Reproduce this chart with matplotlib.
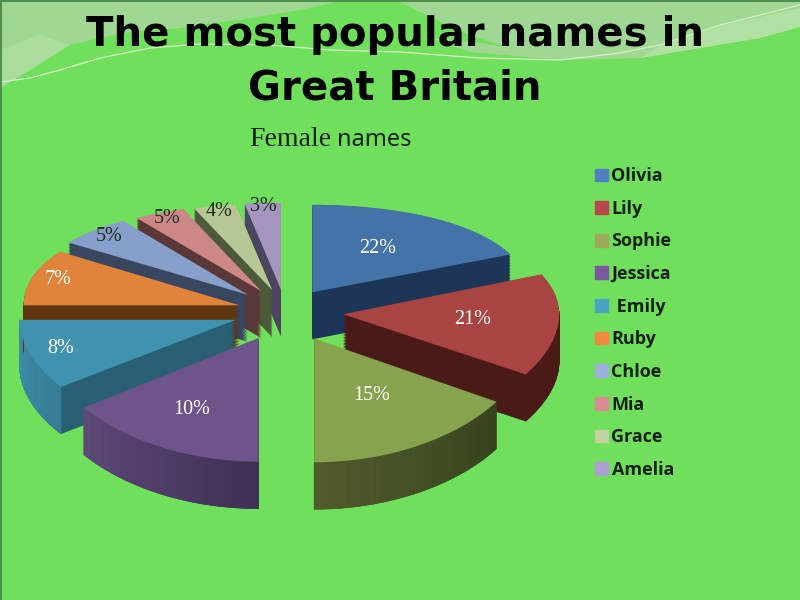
import matplotlib
matplotlib.use('Agg')
import matplotlib.pyplot as plt
import numpy as np
from matplotlib.collections import PolyCollection
from matplotlib.colors import to_rgb
from matplotlib.patches import Patch
from matplotlib.transforms import Affine2D, IdentityTransform

names = ['Olivia', 'Lily', 'Sophie', 'Jessica', ' Emily', 'Ruby', 'Chloe', 'Mia', 'Grace', 'Amelia']
percents = [22, 21, 15, 10, 8, 7, 5, 5, 4, 3]
# the drawing is in perspective, so the wedges on screen do not follow the printed
# percents: these are the sizes of the wedges
drawn_shares = [18.5, 15.5, 16, 15, 10, 9.4, 5.8, 3.9, 3.2, 2.7]
explode = [0.23, 0.27, 0.28, 0.27, 0.24, 0.22, 0.24, 0.23, 0.22, 0.22]

top_colors = ['#4373a7', '#a84442', '#88a34e', '#6f548c', '#3f93ae', '#e0843c', '#87a0cb', '#cc8886', '#b5c793', '#a596bf']
side_colors = ['#1d3557', '#4a1a17', '#3a4520', '#3f3055', '#285f72', '#5f3510', '#38465f', '#5a3838', '#4d5a3a', '#4c4560']
rim_left = ['#1d3557', '#4a1a17', '#505c2d', '#5e4a78', '#3f8fa8', '#5f3510', '#38465f', '#5a3838', '#4d5a3a', '#4c4560']
rim_right = ['#1d3557', '#4a1a17', '#37431e', '#3f3055', '#377e96', '#5f3510', '#38465f', '#5a3838', '#4d5a3a', '#4c4560']
legend_colors = ['#4f7fbf', '#b8474c', '#9cab5a', '#7a5a9c', '#4aa3bf', '#ef8a3c', '#9db0de', '#d88d93', '#c2d2a0', '#ad9fcf']
label_colors = ['white'] * 6 + ['#1c2a18'] * 4
label_radius = [0.55, 0.60, 0.55, 0.68, 0.85, 0.88, 0.90, 0.92, 0.92, 0.95]

# pixel layout of the pie
cx, cy = 285, 312
a_px, b_px = 216, 105
depth = 47
k = 0.12
y_span = 1.9


def warp(y):
    y = np.asarray(y, dtype=float)
    return y - k * y * y


def unwarp(v):
    v = np.asarray(v, dtype=float)
    return (1 - np.sqrt(np.maximum(1 - 4 * k * v, 0))) / (2 * k)


fig = plt.figure(figsize=(8, 6), dpi=100)

# background with the pale swooshes
bg = fig.add_axes([0, 0, 1, 1])
bg.set_xlim(0, 800)
bg.set_ylim(600, 0)
bg.axis('off')
bg.add_patch(plt.Rectangle((0, 0), 800, 600, color='#70df5c', lw=0))
bg.fill([0, 0, 30, 70, 100, 130, 180, 250, 300, 345],
        [0, 88, 70, 45, 38, 32, 28, 18, 10, 0], color='#a0d893', lw=0)
bg.fill([0, 30, 70, 40, 0], [88, 70, 45, 35, 50], color='#aadd9c', lw=0)
bg.fill([430, 470, 560, 640, 700, 760, 800, 800, 395, 420, 470, 505, 460],
        [38, 52, 60, 58, 48, 38, 27, 0, 0, 12, 35, 47, 40], color='#a0d893', lw=0)
bg.fill([640, 700, 760, 800, 800, 720, 660], [58, 48, 38, 27, 8, 26, 46], color='#b2e2a3', lw=0)
bg.plot([0, 30, 60, 100, 150, 200, 270, 330, 400, 480, 560, 620, 660, 720, 800],
        [82, 78, 70, 58, 48, 44, 45, 50, 52, 58, 60, 53, 45, 25, 5], color='#d5efca', lw=0.9)
bg.plot([0.5, 0.5, 800], [600, 0.8, 0.8], color='#4f8f4f', lw=1.5)

fig.text(395 / 800, 1 - 62 / 600, 'The most popular names in\nGreat Britain', ha='center', va='center',
         fontsize=29, fontweight='bold', family='DejaVu Sans', linespacing=1.42, color='black')
fig.text(249 / 800, 1 - 146 / 600, 'Female', ha='left', va='baseline', fontsize=20, family='Liberation Serif', color='#10200c')
fig.text(337 / 800, 1 - 146 / 600, 'names', ha='left', va='baseline', fontsize=17, family='Noto Sans', color='#10200c')

top_px = cy - b_px * warp(y_span)
bot_px = cy - b_px * warp(-y_span)
ax = fig.add_axes([0, 1 - bot_px / 600, 1, (bot_px - top_px) / 600])
ax.patch.set_alpha(0)
ax.set_yscale('function', functions=(warp, unwarp))

# extruded side: the same pie again and again, shifted down in pixels
for d in np.arange(depth, 0, -1.5):
    layer, _ = ax.pie(drawn_shares, explode=explode, colors=side_colors, startangle=90,
                      counterclock=False, wedgeprops={'zorder': 1, 'lw': 0})
    for w in layer:
        w.set_transform(ax.transData + Affine2D().translate(0, -d))

wedges, texts = ax.pie(drawn_shares, explode=explode, colors=top_colors, startangle=90, counterclock=False,
                       labels=[f'{p}%' for p in percents], labeldistance=0.7,
                       textprops={'family': 'Liberation Serif', 'fontsize': 14.5},
                       wedgeprops={'zorder': 3, 'lw': 0})
ax.set_aspect('auto')
ax.set_xlim((0 - cx) / a_px, (800 - cx) / a_px)
ax.set_ylim(-y_span, y_span)
ax.axis('off')

for w, t, col, r in zip(wedges, texts, label_colors, label_radius):
    mid = np.deg2rad((w.theta1 + w.theta2) / 2)
    t.set_position((w.center[0] + r * np.cos(mid), w.center[1] + r * np.sin(mid)))
    t.set_color(col)
    t.set_ha('center')
    t.set_va('center')
    t.set_zorder(5)

# outer rim, shaded left to right, only where it faces the viewer
for w, c1, c2 in zip(wedges, rim_left, rim_right):
    th = np.deg2rad(np.linspace(w.theta1, w.theta2, 60))
    keep = np.sin(th) < 0.03
    if keep.sum() < 2:
        continue
    th = th[keep]
    pts = ax.transData.transform(np.column_stack([w.center[0] + np.cos(th), w.center[1] + np.sin(th)]))
    quads = []
    cols = []
    for i in range(len(pts) - 1):
        p, q = pts[i], pts[i + 1]
        quads.append([p, q, q - [0, depth], p - [0, depth]])
        f = i / max(len(pts) - 2, 1)
        cols.append(tuple((1 - f) * np.array(to_rgb(c1)) + f * np.array(to_rgb(c2))))
    ax.add_collection(PolyCollection(quads, facecolors=cols, edgecolors=cols, linewidths=0.4,
                                     transform=IdentityTransform(), zorder=2), autolim=False)

handles = [Patch(color=c) for c in legend_colors]
fig.legend(handles=handles, labels=names, loc='upper left', bbox_to_anchor=(579 / 800, 1 - 151 / 600),
           frameon=False, prop={'family': 'Open Sans', 'weight': 'bold', 'size': 13},
           handlelength=0.7, handleheight=0.7, handletextpad=0.2, labelspacing=0.81, labelcolor='#10200c')

fig.savefig('out.png', dpi=100)
